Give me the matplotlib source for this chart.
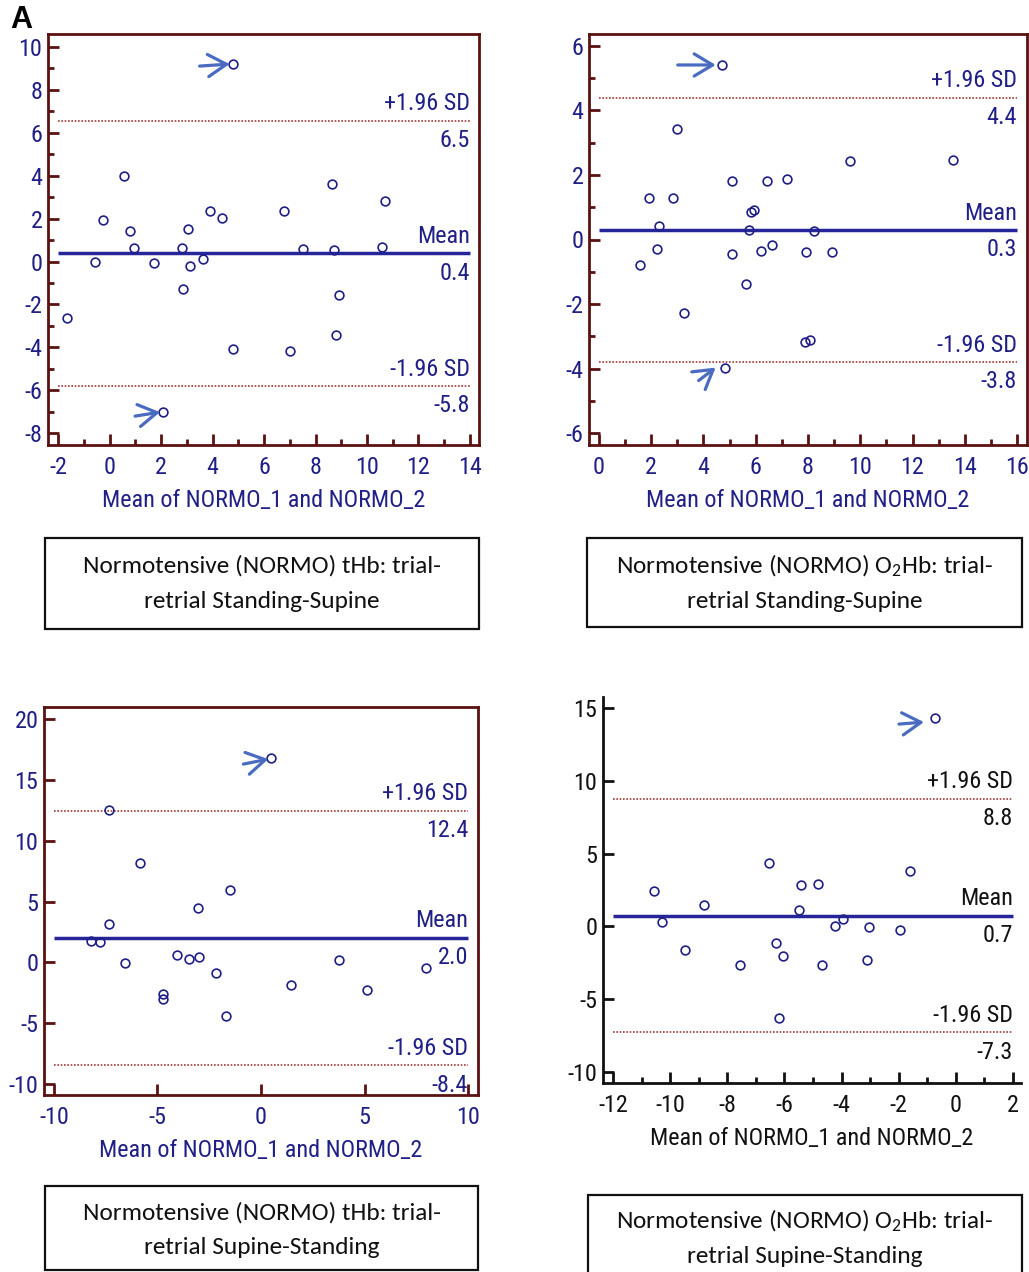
import matplotlib
matplotlib.use("Agg")
import matplotlib.pyplot as plt
from matplotlib.patches import Rectangle
from matplotlib.ticker import MultipleLocator
from matplotlib import font_manager, transforms

names = {f.name for f in font_manager.fontManager.ttflist}


def pick(cands, default):
    for c in cands:
        if c in names:
            return c
    return default


NARROW = pick(["Liberation Sans Narrow", "Arial Narrow", "Roboto Condensed", "Archivo Narrow",
               "PT Sans Narrow", "Pragati Narrow", "Open Sans Condensed"], "Liberation Sans")
CAPFONT = pick(["Carlito", "Calibri", "Lato", "Open Sans"], "DejaVu Sans")

plt.rcParams["font.family"] = [NARROW, "DejaVu Sans"]
plt.rcParams["axes.unicode_minus"] = False
plt.rcParams["mathtext.fontset"] = "custom"
plt.rcParams["mathtext.rm"] = CAPFONT
plt.rcParams["mathtext.it"] = CAPFONT

# ---------------- data ----------------
# Panel 1: tHb Standing-Supine
p1_x = [4.78, 0.57, 8.65, 10.70, 3.91, 6.77, 4.37, -0.26, 0.80, 3.03, 0.95, 2.81, 7.52,
        8.70, 10.59, -0.55, 1.72, 3.62, 3.14, 2.85, 8.91, -1.66, 8.78, 4.78, 7.00, 2.08]
p1_y = [9.19, 3.96, 3.60, 2.80, 2.36, 2.36, 2.04, 1.91, 1.40, 1.53, 0.64, 0.64, 0.57,
        0.54, 0.68, 0.00, -0.05, 0.12, -0.21, -1.29, -1.56, -2.61, -3.44, -4.05, -4.17, -7.01]
p1_lines = [6.55, 0.38, -5.80]
p1_labels = ["6.5", "0.4", "-5.8"]

# Panel 2: O2Hb Standing-Supine
p2_x = [4.70, 3.00, 9.61, 13.56, 5.11, 6.45, 7.20, 1.91, 2.84, 5.81, 5.95, 2.29, 5.76,
        8.24, 2.24, 6.20, 6.63, 5.11, 7.93, 8.91, 1.58, 5.63, 3.25, 7.90, 8.06, 4.81]
p2_y = [5.41, 3.44, 2.43, 2.45, 1.81, 1.81, 1.86, 1.28, 1.28, 0.86, 0.91, 0.42, 0.29,
        0.26, -0.30, -0.35, -0.17, -0.46, -0.40, -0.40, -0.79, -1.37, -2.28, -3.19, -3.13, -3.97]
p2_lines = [4.39, 0.29, -3.80]
p2_labels = ["4.4", "0.3", "-3.8"]

# Panel 3: tHb Supine-Standing
p3_x = [0.50, -7.36, -5.85, -1.51, -3.06, -7.36, -8.20, -7.78, -4.06, -3.46, -3.00, -6.55,
        3.75, 7.95, -2.16, 1.47, 5.10, -4.73, -4.73, -1.67]
p3_y = [16.79, 12.49, 8.13, 5.93, 4.45, 3.14, 1.79, 1.66, 0.64, 0.26, 0.45, -0.02,
        0.18, -0.43, -0.87, -1.88, -2.24, -2.57, -3.03, -4.43]
p3_lines = [12.46, 2.04, -8.46]
p3_labels = ["12.4", "2.0", "-8.4"]

# Panel 4: O2Hb Supine-Standing
p4_x = [-0.73, -6.55, -1.59, -5.43, -4.81, -10.55, -8.82, -5.49, -3.96, -10.28, -4.22,
        -3.05, -1.95, -6.31, -9.48, -6.04, -3.12, -7.54, -4.70, -6.20]
p4_y = [14.31, 4.38, 3.83, 2.82, 2.89, 2.43, 1.49, 1.10, 0.53, 0.28, 0.02,
        -0.07, -0.28, -1.12, -1.63, -2.06, -2.29, -2.64, -2.64, -6.26]
p4_lines = [8.78, 0.73, -7.27]
p4_labels = ["8.8", "0.7", "-7.3"]

line_names = ["+1.96 SD", "Mean", "-1.96 SD"]
xlabel = "Mean of NORMO_1 and NORMO_2"

captions = [
    ("Normotensive (NORMO) tHb: trial-", "retrial Standing-Supine"),
    ("Normotensive (NORMO) O$_2$Hb: trial-", "retrial Standing-Supine"),
    ("Normotensive (NORMO) tHb: trial-", "retrial Supine-Standing"),
    ("Normotensive (NORMO) O$_2$Hb: trial-", "retrial Supine-Standing"),
]

# ---------------- styles ----------------
W, H = 1029, 1272
NAVY = "#1f1f86"
MEANC = "#26269a"
SDC = "#a33a3a"
FRAME = "#5a1212"
ARROWC = "#4a6cc0"

fig = plt.figure(figsize=(W / 100, H / 100), dpi=100)
renderer = fig.canvas.get_renderer()


def fit_size(text, family, base, target_px):
    t = fig.text(0, 0, text, fontsize=base, family=family)
    w = t.get_window_extent(renderer).width
    t.remove()
    return base * target_px / w


AX_FS = min(19.0, 1.1 * fit_size(xlabel, [NARROW, "DejaVu Sans"], 17, 293))
CAP_FS = fit_size(captions[0][0], [CAPFONT, "DejaVu Sans"], 16, 359)


def fbox(l, t, r, b):
    return [l / W, 1 - b / H, (r - l) / W, (b - t) / H]


panels = [
    dict(x=p1_x, y=p1_y, lines=p1_lines, labels=p1_labels, box=fbox(48, 34, 479, 445),
         xlim=(-2.39, 14.35), ylim=(-8.54, 10.59), xt=(-2, 14, 2), xm=1, yt=(-8, 10, 2), ym=1,
         style="frame", arrows=[(0, (-33, -2), (-3, 0)), (25, (-28, -4), (-3, 0))]),
    dict(x=p2_x, y=p2_y, lines=p2_lines, labels=p2_labels, box=fbox(589, 34, 1027, 445),
         xlim=(-0.38, 16.38), ylim=(-6.37, 6.37), xt=(0, 16, 2), xm=1, yt=(-6, 6, 2), ym=1,
         style="frame", arrows=[(0, (-44, 0), (-6, 0)), (25, (-26, -13), (-9, 0))]),
    dict(x=p3_x, y=p3_y, lines=p3_lines, labels=p3_labels, box=fbox(44, 707, 478, 1095),
         xlim=(-10.48, 10.48), ylim=(-10.9, 20.99), xt=(-10, 10, 5), xm=None, yt=(-10, 20, 5), ym=None,
         style="frame", arrows=[(0, (-28, -6), (-3, -1))]),
    dict(x=p4_x, y=p4_y, lines=p4_lines, labels=p4_labels, box=fbox(603, 697, 1021, 1083),
         xlim=(-12.35, 2.28), ylim=(-10.76, 15.76), xt=(-12, 2, 2), xm=1, yt=(-10, 15, 5), ym=None,
         style="open", arrows=[(0, (-36, -6), (-11, -4))]),
]

PX = 0.72  # px -> points at dpi 100

for p in panels:
    ax = fig.add_axes(p["box"])
    ax.set_xlim(*p["xlim"])
    ax.set_ylim(*p["ylim"])
    if p["style"] == "frame":
        ec = FRAME
        lab = NAVY
        for s in ax.spines.values():
            s.set_color(FRAME)
            s.set_linewidth(2.0)
    else:
        ec = "#111111"
        lab = "#111111"
        ax.spines["top"].set_visible(False)
        ax.spines["right"].set_visible(False)
        for s in ("left", "bottom"):
            ax.spines[s].set_color("#111111")
            ax.spines[s].set_linewidth(2.0)
    x0, x1, xs = p["xt"]
    y0, y1, ys = p["yt"]
    ax.xaxis.set_major_locator(MultipleLocator(xs))
    ax.yaxis.set_major_locator(MultipleLocator(ys))
    if p["xm"]:
        ax.xaxis.set_minor_locator(MultipleLocator(p["xm"]))
    if p["ym"]:
        ax.yaxis.set_minor_locator(MultipleLocator(p["ym"]))
    ax.tick_params(which="both", direction="in", color=ec, width=2, labelcolor=lab,
                   labelsize=AX_FS, top=False, right=False)
    ax.tick_params(which="major", length=8)
    ax.tick_params(which="minor", length=4)
    ax.tick_params(axis="x", pad=8)
    ax.tick_params(axis="y", pad=4)
    ax.set_xlabel(xlabel, color=lab, fontsize=AX_FS, labelpad=7)

    # limit lines
    for val, name, txt in zip(p["lines"], line_names, p["labels"]):
        if name == "Mean":
            ax.plot([x0, x1], [val, val], color=MEANC, lw=2.5, solid_capstyle="butt", zorder=2)
        else:
            ax.plot([x0, x1], [val, val], color=SDC, lw=1.2, ls=(0, (1, 1)), zorder=2)
        ax.annotate(name, xy=(x1, val), xytext=(0, 4), textcoords="offset points",
                    ha="right", va="bottom", color=lab, fontsize=AX_FS)
        ax.annotate(txt, xy=(x1, val), xytext=(0, -6), textcoords="offset points",
                    ha="right", va="top", color=lab, fontsize=AX_FS)

    ax.plot(p["x"], p["y"], ls="none", marker="o", ms=6.3, mfc="none", mec=NAVY, mew=1.2, zorder=3)

    for idx, tail, head in p["arrows"]:
        hx, hy = head
        tx, ty = tail
        tr = transforms.offset_copy(ax.transData, fig=fig, x=hx * PX, y=hy * PX, units="points")
        ax.annotate("", xy=(p["x"][idx], p["y"][idx]), xycoords=tr,
                    xytext=((tx - hx) * PX, (ty - hy) * PX), textcoords="offset points",
                    arrowprops=dict(arrowstyle="->,head_length=0.7,head_width=0.42",
                                    color=ARROWC, lw=2.3, mutation_scale=19,
                                    shrinkA=0, shrinkB=0))

# caption boxes: (left, top, right, bottom) and the two text baselines, in pixels
cap_boxes = [(45, 538, 479, 629), (587, 538, 1022, 627), (45, 1186, 478, 1270), (588, 1195, 1022, 1290)]
cap_base = [(573, 608), (573, 608), (1220, 1254), (1228, 1263)]
for (l, t, r, b), (b1, b2), (c1, c2) in zip(cap_boxes, cap_base, captions):
    fig.add_artist(Rectangle((l / W, 1 - b / H), (r - l) / W, (b - t) / H, transform=fig.transFigure,
                             fill=False, ec="#111111", lw=1.6))
    for yy, line in ((b1, c1), (b2, c2)):
        fig.text((l + r) / 2 / W, 1 - yy / H, line, ha="center", va="baseline", fontsize=CAP_FS,
                 family=[CAPFONT, "DejaVu Sans"], color="#111111")

fig.text(10 / W, 1 - 20 / H, "A", fontsize=22, fontweight="bold", family=["Liberation Sans", "DejaVu Sans"],
         ha="left", va="center", color="black")

fig.savefig("out.png", dpi=100)
